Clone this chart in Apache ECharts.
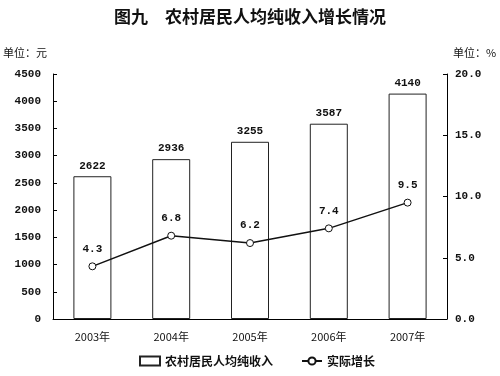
<!DOCTYPE html>
<html>
<head>
<meta charset="utf-8">
<script src="https://cdn.jsdelivr.net/npm/echarts@6/dist/echarts.min.js"></script>
<style>
html,body{margin:0;padding:0;background:#fff;}
#main{width:500px;height:376px;}
</style>
</head>
<body>
<div id="main"></div>
<script>
// 年份
var years = ['2003年', '2004年', '2005年', '2006年', '2007年'];
// 农村居民人均纯收入（元）
var income = [2622, 2936, 3255, 3587, 4140];
// 实际增长（%）
var growth = [4.3, 6.8, 6.2, 7.4, 9.5];

var cnFont = '"Noto Sans CJK SC", sans-serif';
var numFont = '"Liberation Mono", "DejaVu Sans Mono", monospace';

var myChart = echarts.init(document.getElementById('main'));

var option = {
  backgroundColor: '#fff',
  animation: false,
  title: {
    text: '图九　农村居民人均纯收入增长情况',
    left: 'center',
    top: 3,
    textStyle: { fontFamily: cnFont, fontSize: 17, fontWeight: 'bold', color: '#111' }
  },
  grid: { left: 53, right: 53, top: 74, bottom: 57 },
  legend: {
    bottom: 4,
    left: 134,
    itemGap: 28,
    itemWidth: 20,
    itemHeight: 9,
    textStyle: { fontFamily: cnFont, fontSize: 12, fontWeight: 'bold', color: '#111' },
    data: [
      { name: '农村居民人均纯收入', icon: 'rect' },
      { name: '实际增长' }
    ]
  },
  xAxis: {
    type: 'category',
    data: years,
    axisLine: { lineStyle: { color: '#000', width: 1 } },
    axisTick: { inside: true, length: 4, lineStyle: { color: '#000' } },
    axisLabel: { color: '#111', fontFamily: cnFont, fontSize: 11, margin: 12 }
  },
  yAxis: [
    {
      type: 'value',
      min: 0, max: 4500, interval: 500,
      name: '单位：元',
      nameLocation: 'end',
      nameGap: 16,
      nameTextStyle: { fontFamily: cnFont, fontSize: 11, color: '#111', align: 'right', padding: [0, 6, 0, 0] },
      axisLine: { show: true, lineStyle: { color: '#000' } },
      axisTick: { show: true, inside: true, length: 4, lineStyle: { color: '#000' } },
      splitLine: { show: false },
      axisLabel: {
        color: '#111', fontFamily: numFont, fontSize: 11, fontWeight: 'bold', margin: 12,
        formatter: function (v) { return String(v); }
      }
    },
    {
      type: 'value',
      min: 0, max: 20, interval: 5,
      name: '单位：%',
      nameLocation: 'end',
      nameGap: 16,
      nameTextStyle: { fontFamily: cnFont, fontSize: 11, color: '#111', align: 'left', padding: [0, 0, 0, 6] },
      axisLine: { show: true, lineStyle: { color: '#000' } },
      axisTick: { show: true, inside: true, length: 4, lineStyle: { color: '#000' } },
      splitLine: { show: false },
      axisLabel: {
        color: '#111', fontFamily: numFont, fontSize: 11, fontWeight: 'bold', margin: 8,
        formatter: function (v) { return v.toFixed(1); }
      }
    }
  ],
  series: [
    {
      name: '农村居民人均纯收入',
      type: 'bar',
      data: income,
      barWidth: 38,
      itemStyle: { color: '#fff', borderColor: '#222', borderWidth: 1 },
      label: {
        show: true, position: 'top', distance: 5,
        color: '#111', fontFamily: numFont, fontSize: 11, fontWeight: 'bold'
      }
    },
    {
      name: '实际增长',
      type: 'line',
      yAxisIndex: 1,
      data: growth,
      symbol: 'circle',
      symbolSize: 7,
      lineStyle: { color: '#111', width: 1.5 },
      itemStyle: { color: '#fff', borderColor: '#111', borderWidth: 1 },
      label: {
        show: true, position: 'top', distance: 8,
        color: '#111', fontFamily: numFont, fontSize: 11, fontWeight: 'bold',
        formatter: function (p) { return p.value.toFixed(1); }
      }
    }
  ]
};

myChart.setOption(option);
</script>
</body>
</html>
